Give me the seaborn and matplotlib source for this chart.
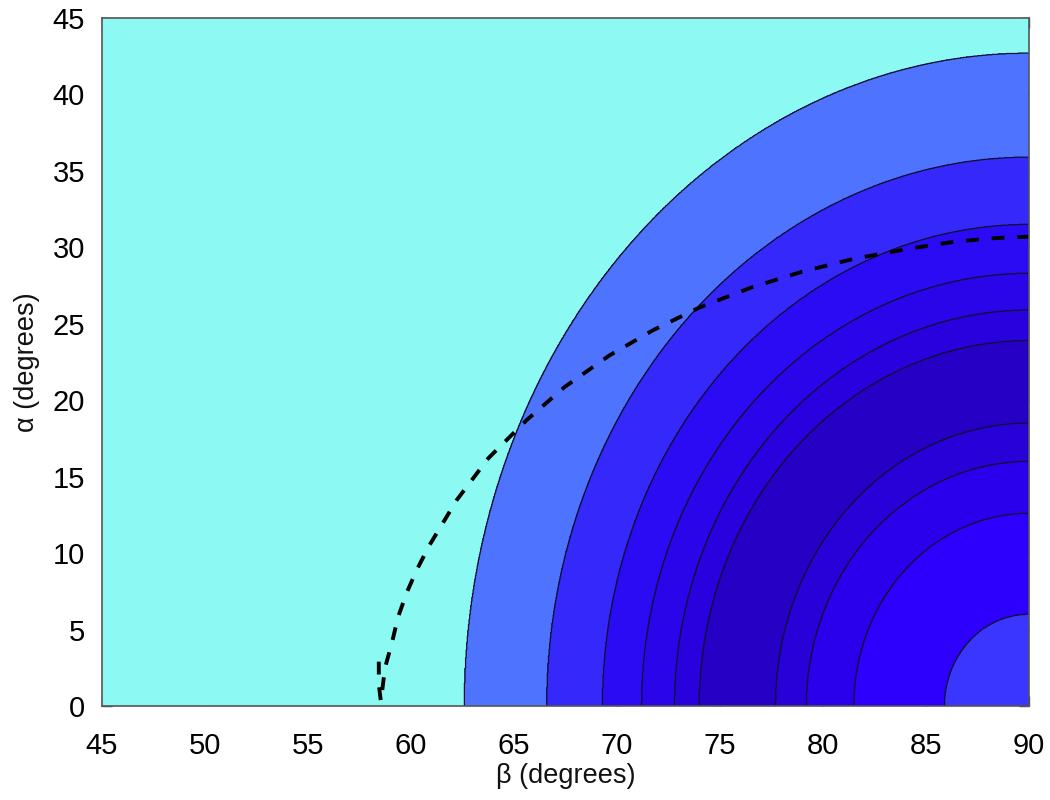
import numpy as np
import matplotlib
matplotlib.use("Agg")
import matplotlib.pyplot as plt
import seaborn as sns

# Contour band boundaries (ellipses centred at beta=90, alpha=0)
band_beta_edges = [62.6, 66.6, 69.3, 71.2, 72.8, 74.0, 77.7, 79.2, 81.5, 85.9]   # crossing on alpha=0
band_alpha_edges = [42.7, 35.9, 31.5, 28.3, 25.9, 23.9, 18.5, 16.0, 12.6, 6.0]  # crossing on beta=90
band_colors = ["#8CF9F3", "#4E74FF", "#3528FA", "#2B0BF4", "#2A05EA", "#2900DE",
               "#2700C6", "#2800D8", "#2A00EC", "#2C00FC", "#3A36FF"]

# Dashed curve
curve_beta = [58.45, 58.45, 58.55, 58.75, 59.08, 59.38, 59.80, 60.29, 60.90, 62.23,
              63.76, 65.63, 67.48, 69.64, 71.77, 74.03, 76.54, 78.97, 81.47, 84.0,
              86.4, 88.3, 90.0]
curve_alpha = [2.9, 1.4, 0.3, 2.5, 4.1, 5.8, 7.4, 8.9, 10.5, 13.47,
               16.2, 18.71, 20.88, 22.93, 24.59, 26.08, 27.38, 28.4, 29.24, 29.87,
               30.37, 30.6, 30.7]

x_ticks = [45, 50, 55, 60, 65, 70, 75, 80, 85, 90]
y_ticks = [0, 5, 10, 15, 20, 25, 30, 35, 40, 45]

sns.set_style("ticks")
plt.rcParams['font.family'] = ['Liberation Sans', 'DejaVu Sans']

fig = plt.figure(figsize=(10.5, 8), dpi=100)
ax = fig.add_axes([0.0968, 0.1175, 0.8832, 0.86])

B, A = np.meshgrid(np.linspace(45, 90, 1600), np.linspace(0, 45, 1600))
Z = np.zeros_like(B)
for bx, ay in zip(band_beta_edges, band_alpha_edges):
    ax_semi = 90 - bx
    Z += (((90 - B) / ax_semi) ** 2 + (A / ay) ** 2 < 1).astype(float)

levels = np.arange(-0.5, len(band_colors), 1.0)
ax.contourf(B, A, Z, levels=levels, colors=band_colors)
ax.contour(B, A, Z, levels=levels[1:-1], colors="#101030", linewidths=0.9)

sns.lineplot(x=curve_beta, y=curve_alpha, sort=False, estimator=None, ax=ax,
             color="black", linewidth=2.8, dashes=False)
ax.lines[-1].set_dashes((3.3, 3.3))
ax.lines[-1].set_dash_capstyle("butt")

ax.set_xlim(45, 90)
ax.set_ylim(0, 45)
ax.set_xticks(x_ticks)
ax.set_yticks(y_ticks)
ax.tick_params(direction="in", length=7, width=1, colors="#444444",
               top=True, right=True, labelsize=21, labelcolor="black")
ax.tick_params(axis="x", pad=19)
ax.tick_params(axis="y", pad=12)
ax.set_xlabel("β (degrees)", fontsize=19.5, labelpad=2, color="#111111")
ax.set_ylabel("α (degrees)", fontsize=19.5, labelpad=9, color="#111111")
for s in ax.spines.values():
    s.set_color("#555555")
    s.set_linewidth(1.2)

fig.savefig("out.png", dpi=100)
